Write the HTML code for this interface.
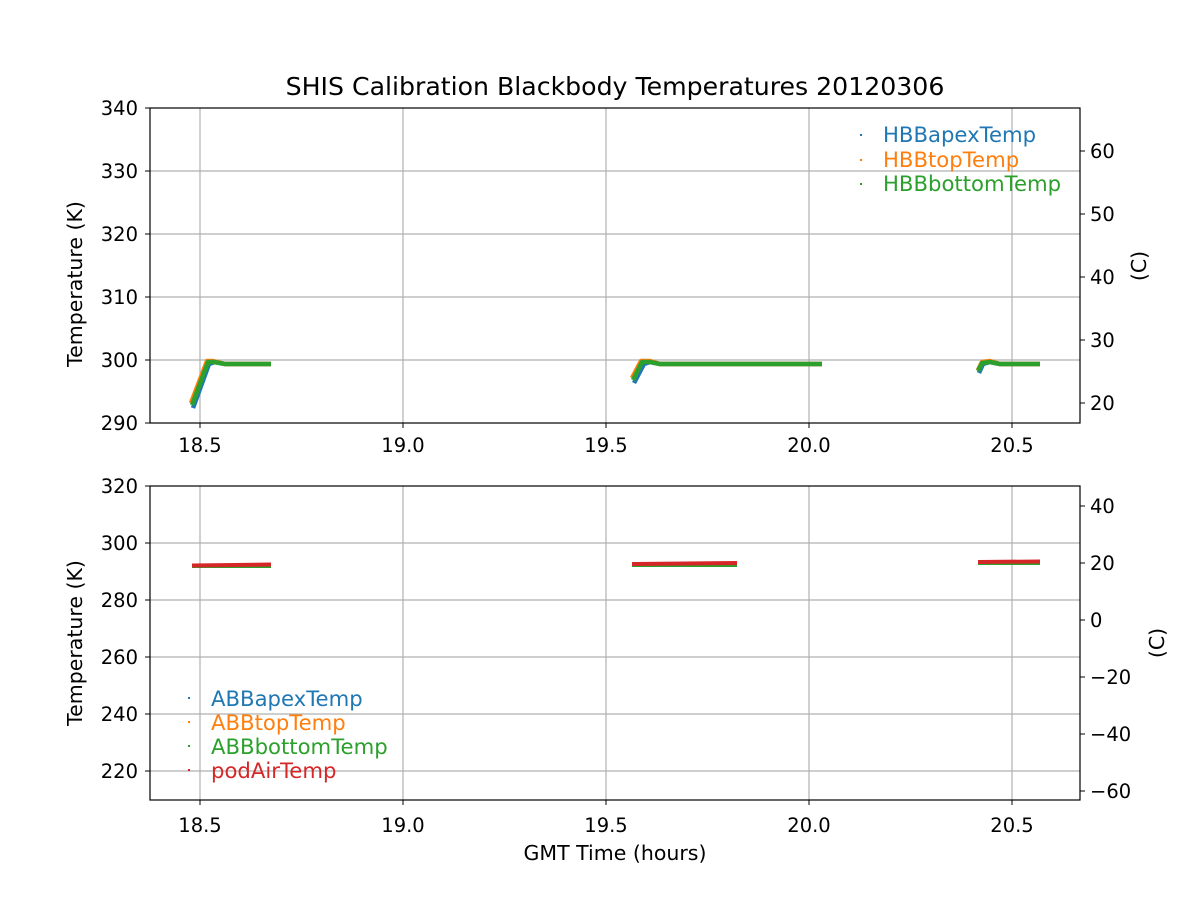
<!DOCTYPE html>
<html><head><meta charset="utf-8"><style>
body{margin:0;background:#fff}
svg{display:block;font-family:"DejaVu Sans","Liberation Sans",sans-serif}
.t{font-size:19.5px}
.l{font-size:20.5px}
.g{font-size:21.2px}
</style></head><body>
<svg width="1200" height="900" xmlns="http://www.w3.org/2000/svg">
<rect width="1200" height="900" fill="#fff"/>
<text x="615" y="95" style="font-size:25.2px" text-anchor="middle">SHIS Calibration Blackbody Temperatures 20120306</text>
<g stroke="#b0b0b0" stroke-width="1.2">
<line x1="200" y1="108" x2="200" y2="423"/><line x1="403" y1="108" x2="403" y2="423"/><line x1="606" y1="108" x2="606" y2="423"/><line x1="809" y1="108" x2="809" y2="423"/><line x1="1012" y1="108" x2="1012" y2="423"/>
<line x1="150" y1="360" x2="1080" y2="360"/><line x1="150" y1="297" x2="1080" y2="297"/><line x1="150" y1="234" x2="1080" y2="234"/><line x1="150" y1="171" x2="1080" y2="171"/>
</g>
<g fill="none" stroke-width="4.5" stroke-linejoin="round">
<polyline stroke="#1f77b4" points="193,408 209,364 215,362 225,364 271,364"/>
<polyline stroke="#1f77b4" points="634,383 644,364 650,362 660,364 822,364"/>
<polyline stroke="#1f77b4" points="979,373 983,364 990,362 1000,364 1040,364"/>
<polyline stroke="#ff7f0e" points="191,403 207,361 213,361 225,364 271,364"/>
<polyline stroke="#ff7f0e" points="632,378 641,361 650,361 660,364 822,364"/>
<polyline stroke="#ff7f0e" points="978,370 982,362 990,361 1000,364 1040,364"/>
<polyline stroke="#2ca02c" points="192,405 208,362 214,362 225,364 271,364"/>
<polyline stroke="#2ca02c" points="633,380 642,362 650,362 660,364 822,364"/>
<polyline stroke="#2ca02c" points="978,371 982,363 990,362 1000,364 1040,364"/>
</g>
<rect x="150" y="108" width="930" height="315" fill="none" stroke="#000" stroke-width="1.2"/>
<g stroke="#000" stroke-width="1">
<line x1="145" y1="423" x2="150" y2="423"/><line x1="145" y1="360" x2="150" y2="360"/><line x1="145" y1="297" x2="150" y2="297"/><line x1="145" y1="234" x2="150" y2="234"/><line x1="145" y1="171" x2="150" y2="171"/><line x1="145" y1="108" x2="150" y2="108"/>
<line x1="200" y1="423" x2="200" y2="428"/><line x1="403" y1="423" x2="403" y2="428"/><line x1="606" y1="423" x2="606" y2="428"/><line x1="809" y1="423" x2="809" y2="428"/><line x1="1012" y1="423" x2="1012" y2="428"/>
<line x1="1080" y1="403" x2="1085" y2="403"/><line x1="1080" y1="340" x2="1085" y2="340"/><line x1="1080" y1="277" x2="1085" y2="277"/><line x1="1080" y1="214" x2="1085" y2="214"/><line x1="1080" y1="151" x2="1085" y2="151"/>
</g>
<g class="t" text-anchor="end">
<text x="138" y="430">290</text><text x="138" y="367">300</text><text x="138" y="304">310</text><text x="138" y="241">320</text><text x="138" y="178">330</text><text x="138" y="115">340</text>
</g>
<g class="t">
<text x="1090" y="410">20</text><text x="1090" y="347">30</text><text x="1090" y="284">40</text><text x="1090" y="221">50</text><text x="1090" y="158">60</text>
</g>
<g class="t" text-anchor="middle">
<text x="200" y="452">18.5</text><text x="403" y="452">19.0</text><text x="606" y="452">19.5</text><text x="809" y="452">20.0</text><text x="1012" y="452">20.5</text>
</g>
<text transform="translate(82,284) rotate(-90)" class="l" text-anchor="middle">Temperature (K)</text>
<text transform="translate(1146,266) rotate(-90)" class="l" text-anchor="middle">(C)</text>
<g class="g">
<rect x="860" y="134" width="2" height="2" fill="#1f77b4"/><text x="883" y="142" fill="#1f77b4">HBBapexTemp</text>
<rect x="860" y="159" width="2" height="2" fill="#ff7f0e"/><text x="883" y="167" fill="#ff7f0e">HBBtopTemp</text>
<rect x="860" y="183" width="2" height="2" fill="#2ca02c"/><text x="883" y="191" fill="#2ca02c">HBBbottomTemp</text>
</g>
<g stroke="#b0b0b0" stroke-width="1.2">
<line x1="200" y1="486" x2="200" y2="800"/><line x1="403" y1="486" x2="403" y2="800"/><line x1="606" y1="486" x2="606" y2="800"/><line x1="809" y1="486" x2="809" y2="800"/><line x1="1012" y1="486" x2="1012" y2="800"/>
<line x1="150" y1="771" x2="1080" y2="771"/><line x1="150" y1="714" x2="1080" y2="714"/><line x1="150" y1="657" x2="1080" y2="657"/><line x1="150" y1="600" x2="1080" y2="600"/><line x1="150" y1="543" x2="1080" y2="543"/>
</g>
<g fill="none" stroke-width="4">
<line stroke="#2ca02c" x1="192" y1="566" x2="271" y2="566"/>
<line stroke="#2ca02c" x1="632" y1="565" x2="737" y2="565"/>
<line stroke="#2ca02c" x1="978" y1="563" x2="1040" y2="563"/>
<line stroke="#d62728" x1="192" y1="565.5" x2="271" y2="564.5"/>
<line stroke="#d62728" x1="632" y1="564" x2="737" y2="563"/>
<line stroke="#d62728" x1="978" y1="562" x2="1040" y2="561.5"/>
</g>
<rect x="150" y="486" width="930" height="314" fill="none" stroke="#000" stroke-width="1.2"/>
<g stroke="#000" stroke-width="1">
<line x1="145" y1="771" x2="150" y2="771"/><line x1="145" y1="714" x2="150" y2="714"/><line x1="145" y1="657" x2="150" y2="657"/><line x1="145" y1="600" x2="150" y2="600"/><line x1="145" y1="543" x2="150" y2="543"/><line x1="145" y1="486" x2="150" y2="486"/>
<line x1="200" y1="800" x2="200" y2="805"/><line x1="403" y1="800" x2="403" y2="805"/><line x1="606" y1="800" x2="606" y2="805"/><line x1="809" y1="800" x2="809" y2="805"/><line x1="1012" y1="800" x2="1012" y2="805"/>
<line x1="1080" y1="506" x2="1085" y2="506"/><line x1="1080" y1="563" x2="1085" y2="563"/><line x1="1080" y1="620" x2="1085" y2="620"/><line x1="1080" y1="677" x2="1085" y2="677"/><line x1="1080" y1="734" x2="1085" y2="734"/><line x1="1080" y1="791" x2="1085" y2="791"/>
</g>
<g class="t" text-anchor="end">
<text x="138" y="778">220</text><text x="138" y="721">240</text><text x="138" y="664">260</text><text x="138" y="607">280</text><text x="138" y="550">300</text><text x="138" y="493">320</text>
</g>
<g class="t">
<text x="1090" y="513">40</text><text x="1090" y="570">20</text><text x="1090" y="627">0</text><text x="1090" y="684">−20</text><text x="1090" y="741">−40</text><text x="1090" y="798">−60</text>
</g>
<g class="t" text-anchor="middle">
<text x="200" y="832">18.5</text><text x="403" y="832">19.0</text><text x="606" y="832">19.5</text><text x="809" y="832">20.0</text><text x="1012" y="832">20.5</text>
</g>
<text x="615" y="860" class="l" text-anchor="middle">GMT Time (hours)</text>
<text transform="translate(82,643) rotate(-90)" class="l" text-anchor="middle">Temperature (K)</text>
<text transform="translate(1164,643) rotate(-90)" class="l" text-anchor="middle">(C)</text>
<g class="g">
<rect x="188" y="697" width="2" height="2" fill="#1f77b4"/><text x="211" y="706" fill="#1f77b4">ABBapexTemp</text>
<rect x="188" y="721" width="2" height="2" fill="#ff7f0e"/><text x="211" y="730" fill="#ff7f0e">ABBtopTemp</text>
<rect x="188" y="745" width="2" height="2" fill="#2ca02c"/><text x="211" y="754" fill="#2ca02c">ABBbottomTemp</text>
<rect x="188" y="769" width="2" height="2" fill="#d62728"/><text x="211" y="778" fill="#d62728">podAirTemp</text>
</g>
</svg>
</body></html>
